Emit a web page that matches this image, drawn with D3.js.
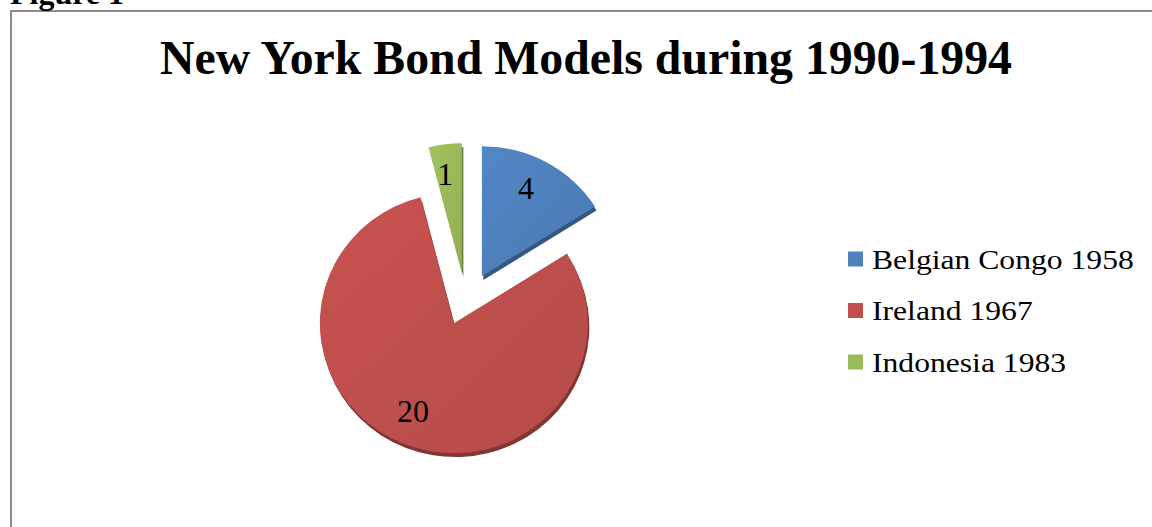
<!DOCTYPE html>
<html>
<head>
<meta charset="utf-8">
<script src="https://cdn.jsdelivr.net/npm/d3@7"></script>
<style>
  html, body { margin: 0; padding: 0; background: #fff; }
  svg { display: block; }
  text { font-family: "Liberation Serif", "Times New Roman", serif; }
</style>
</head>
<body>
<div id="chart"></div>
<script>
// data
var categories = ['Belgian Congo 1958', 'Ireland 1967', 'Indonesia 1983'];
var values = [4, 20, 1];
var colors = ['#4f81bd', '#c0504d', '#9bbb59'];
var title = 'New York Bond Models during 1990-1994';

var W = 1152, H = 527;
var svg = d3.select('#chart').append('svg')
  .attr('width', W).attr('height', H);

var defs = svg.append('defs');

// frame of the figure
svg.append('rect')
  .attr('x', 11).attr('y', 11)
  .attr('width', W + 20).attr('height', H + 20)
  .attr('fill', 'none')
  .attr('stroke', '#8c8c8c')
  .attr('stroke-width', 2);

// caption, cut by the top of the page as in the original
svg.append('text')
  .attr('x', 10).attr('y', 4)
  .style('font-size', '32px')
  .style('font-weight', 'bold')
  .attr('fill', '#000')
  .text('Figure 1');

svg.append('text')
  .attr('x', 586).attr('y', 74)
  .attr('text-anchor', 'middle')
  .style('font-size', '47.8px')
  .style('font-weight', 'bold')
  .attr('fill', '#000')
  .text(title);

// pie geometry
var cx = 466, cy = 299;
var radius = 134;
var explode = 33;      // explosion distance
var tiltOffset = 0.79; // vertical squash of explosion offset
var tiltRadius = 0.97; // vertical squash of slice shape
var labelDist = 100;

var pie = d3.pie().sort(null).startAngle(0).endAngle(2 * Math.PI);
var arcs = pie(values);
var arc = d3.arc().innerRadius(0).outerRadius(radius);

// gradients to imitate the shaded 3D look
colors.forEach(function(c, i) {
  var g = defs.append('linearGradient')
    .attr('id', 'grad-' + i)
    .attr('x1', '0%').attr('y1', '0%')
    .attr('x2', '100%').attr('y2', '100%');
  g.append('stop').attr('offset', '0%').attr('stop-color', d3.color(c).brighter(0.12));
  g.append('stop').attr('offset', '100%').attr('stop-color', d3.color(c).darker(0.18));
});

function midAngle(d) { return (d.startAngle + d.endAngle) / 2; }
function apex(d) {
  var a = midAngle(d);
  return [cx + explode * Math.sin(a), cy - explode * Math.cos(a) * tiltOffset];
}

var slices = svg.append('g').selectAll('g.slice')
  .data(arcs).enter().append('g')
  .attr('class', 'slice')
  .attr('transform', function(d) {
    var p = apex(d);
    return 'translate(' + p[0] + ',' + p[1] + ') scale(1,' + tiltRadius + ')';
  });

// side / thickness
slices.append('path')
  .attr('d', arc)
  .attr('transform', 'translate(1.5,4)')
  .attr('fill', function(d, i) { return d3.color(colors[i]).darker(1.1); });

// top face
slices.append('path')
  .attr('d', arc)
  .attr('fill', function(d, i) { return 'url(#grad-' + i + ')'; });

// value labels
svg.append('g').selectAll('text')
  .data(arcs).enter().append('text')
  .attr('x', function(d) { return apex(d)[0] + labelDist * Math.sin(midAngle(d)) - 4; })
  .attr('y', function(d) { return apex(d)[1] - labelDist * Math.cos(midAngle(d)) * tiltRadius - 3; })
  .attr('text-anchor', 'middle')
  .attr('dy', '0.35em')
  .style('font-size', '32px')
  .attr('fill', '#000')
  .text(function(d) { return d.data; });

// legend
var legendY = d3.scalePoint().domain(categories).range([259, 362]);
var legend = svg.append('g').selectAll('g')
  .data(categories).enter().append('g')
  .attr('transform', function(d) { return 'translate(848,' + legendY(d) + ')'; });
legend.append('rect')
  .attr('x', 0).attr('y', -7.5)
  .attr('width', 15).attr('height', 15)
  .attr('fill', function(d, i) { return colors[i]; });
legend.append('text')
  .attr('transform', 'translate(24,0) scale(1.13,1)')
  .attr('dy', '0.35em')
  .style('font-size', '28px')
  .attr('fill', '#000')
  .text(function(d) { return d; });
</script>
</body>
</html>
